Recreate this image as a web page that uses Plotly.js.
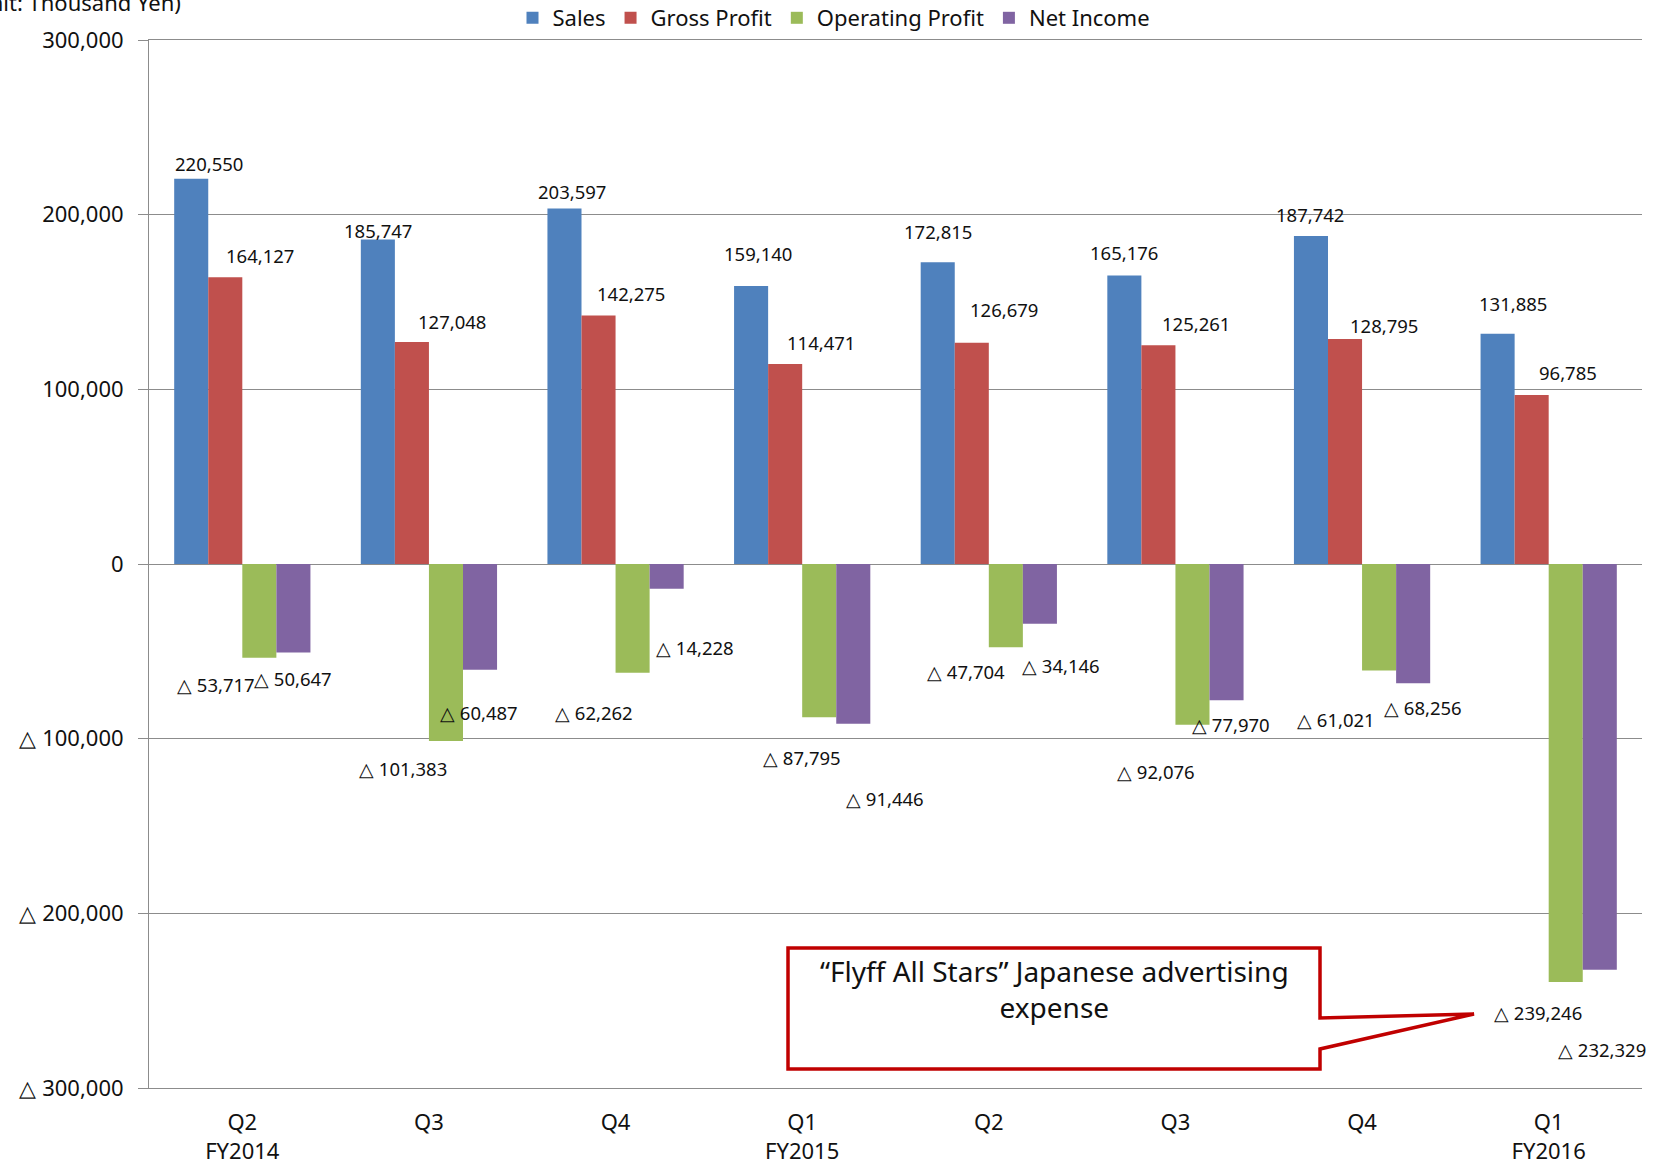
<!DOCTYPE html>
<html>
<head>
<meta charset="utf-8">
<script src="https://cdn.plot.ly/plotly-3.0.1.min.js"></script>
<style>
  html, body { margin: 0; padding: 0; background: #fff; }
  #chart { width: 1660px; height: 1166px; }
</style>
</head>
<body>
<div id="chart"></div>
<script>
// ---------------- DATA ----------------
const quarters    = ["Q2", "Q3", "Q4", "Q1", "Q2", "Q3", "Q4", "Q1"];
const fiscalYears = ["FY2014", "", "", "FY2015", "", "", "", "FY2016"];
const seriesNames = ["Sales", "Gross Profit", "Operating Profit", "Net Income"];
const sales           = [220550, 185747, 203597, 159140, 172815, 165176, 187742, 131885];
const grossProfit     = [164127, 127048, 142275, 114471, 126679, 125261, 128795, 96785];
const operatingProfit = [-53717, -101383, -62262, -87795, -47704, -92076, -61021, -239246];
const netIncome       = [-50647, -60487, -14228, -91446, -34146, -77970, -68256, -232329];
const yTickValues = [-300000, -200000, -100000, 0, 100000, 200000, 300000];
const yTickLabels = ["△ 300,000", "△ 200,000", "△ 100,000", "0", "100,000", "200,000", "300,000"];
const unitText = "(Unit: Thousand Yen)";
const calloutText = "\u201CFlyff All Stars\u201D Japanese advertising<br>expense";

// ---------------- STYLE / LAYOUT ----------------
const colors = ["#4F81BD", "#C0504D", "#9BBB59", "#8064A2"];
const FONT = "Noto Sans, Open Sans, sans-serif";
const gridColor = "#8c8c8c";
const bargap = 0.27;
// per-label pixel nudges [xshift, yshift] (label placement as in the original)
const labelNudge = [
  [[18,15],[0,9],[8,17],[7,33],[0,31],[0,23],[-1,22],[15,30]],
  [[35,22],[40,21],[32,22],[36,22],[32,33],[38,22],[39,14],[36,22]],
  [[-43,-27],[-43,-27],[-39,-40],[-17,-40],[-40,-24],[-36,-47],[-43,-49],[-28,-31]],
  [[0,-26],[-1,-43],[28,-59],[32,-75],[21,-42],[4,-24],[10,-24],[2,-80]]
];

const series = [sales, grossProfit, operatingProfit, netIncome];
const idx = quarters.map((_, i) => i);
const tickText = quarters.map((q, i) => fiscalYears[i] ? q + "<br>" + fiscalYears[i] : q);
const boundaries = idx.map(i => i - 0.5).concat([idx.length - 0.5]);

function fmt(v) {
  const s = Math.abs(v).toLocaleString("en-US");
  return v < 0 ? "△ " + s : s;
}

const traces = series.map((vals, k) => ({
  type: "bar",
  name: seriesNames[k],
  x: idx,
  y: vals,
  marker: { color: colors[k] },
  hoverinfo: "skip"
}));

const barW = (1 - bargap) / series.length;
const annotations = [];
series.forEach((vals, k) => {
  const off = (k - (series.length - 1) / 2) * barW;
  vals.forEach((v, i) => {
    annotations.push({
      x: i + off, y: v, xref: "x", yref: "y",
      text: fmt(v), showarrow: false,
      xanchor: "center", yanchor: "middle",
      xshift: labelNudge[k][i][0], yshift: labelNudge[k][i][1],
      font: { family: FONT, size: 18.5, color: "#111" }
    });
  });
});

// plot area in pixels: x 149..1642, y 40..1088
const W = 1660, H = 1166, L = 149, R = 1642, T = 40, B = 1088;
const px = X => (X - L) / (R - L);
const py = Y => (B - Y) / (B - T);

annotations.push({
  xref: "paper", yref: "paper", x: px(183), y: py(2),
  xanchor: "right", yanchor: "middle", showarrow: false,
  text: unitText, font: { family: FONT, size: 22, color: "#111" }
});
annotations.push({
  xref: "paper", yref: "paper", x: px(1054), y: py(989),
  xanchor: "center", yanchor: "middle", showarrow: false,
  text: calloutText, font: { family: FONT, size: 28, color: "#111" }
});

const pts = [[788,948],[1320,948],[1320,1018],[1474,1014],[1320,1049],[1320,1069],[788,1069]];
const path = "M" + pts.map(p => px(p[0]).toFixed(5) + "," + py(p[1]).toFixed(5)).join("L") + "Z";

const layout = {
  width: W, height: H,
  margin: { l: L, r: W - R, t: T, b: H - B, pad: 0, autoexpand: false },
  paper_bgcolor: "#fff", plot_bgcolor: "#fff",
  barmode: "group", bargap: bargap, bargroupgap: 0,
  font: { family: FONT, color: "#111" },
  showlegend: true,
  legend: {
    orientation: "h", x: px(834), xanchor: "center", y: py(18), yanchor: "middle",
    font: { family: FONT, size: 22, color: "#111" }, bgcolor: "rgba(0,0,0,0)",
    traceorder: "normal"
  },
  xaxis: {
    range: [-0.5, idx.length - 0.5], tickmode: "array", tickvals: idx, ticktext: tickText,
    showgrid: false, zeroline: false, showline: true, mirror: true,
    linecolor: gridColor, linewidth: 1, ticks: "",
    tickfont: { family: FONT, size: 22, color: "#111" }, ticklabelstandoff: 15,
    fixedrange: true
  },
  xaxis2: {
    overlaying: "x", anchor: "free", position: 0.5, side: "bottom",
    range: [-0.5, idx.length - 0.5], tickmode: "array", tickvals: boundaries,
    showticklabels: false, ticks: "outside", ticklen: 8, tickcolor: gridColor, tickwidth: 1,
    showline: true, linecolor: gridColor, linewidth: 1, showgrid: false, zeroline: false
  },
  yaxis: {
    range: [-300000, 300000], tickmode: "array", tickvals: yTickValues, ticktext: yTickLabels,
    showgrid: true, gridcolor: gridColor, gridwidth: 1,
    zeroline: true, zerolinecolor: gridColor, zerolinewidth: 1,
    showline: true, linecolor: gridColor, linewidth: 1,
    ticks: "outside", ticklen: 10, tickcolor: gridColor, tickwidth: 1,
    tickfont: { family: FONT, size: 22, color: "#111" }, ticklabelstandoff: 10,
    fixedrange: true
  },
  shapes: [{
    type: "path", xref: "paper", yref: "paper", path: path,
    line: { color: "#C00000", width: 3.5 }, fillcolor: "#ffffff", layer: "above"
  }],
  annotations: annotations
};

Plotly.newPlot("chart", traces, layout, { displayModeBar: false, staticPlot: true });
</script>
</body>
</html>
